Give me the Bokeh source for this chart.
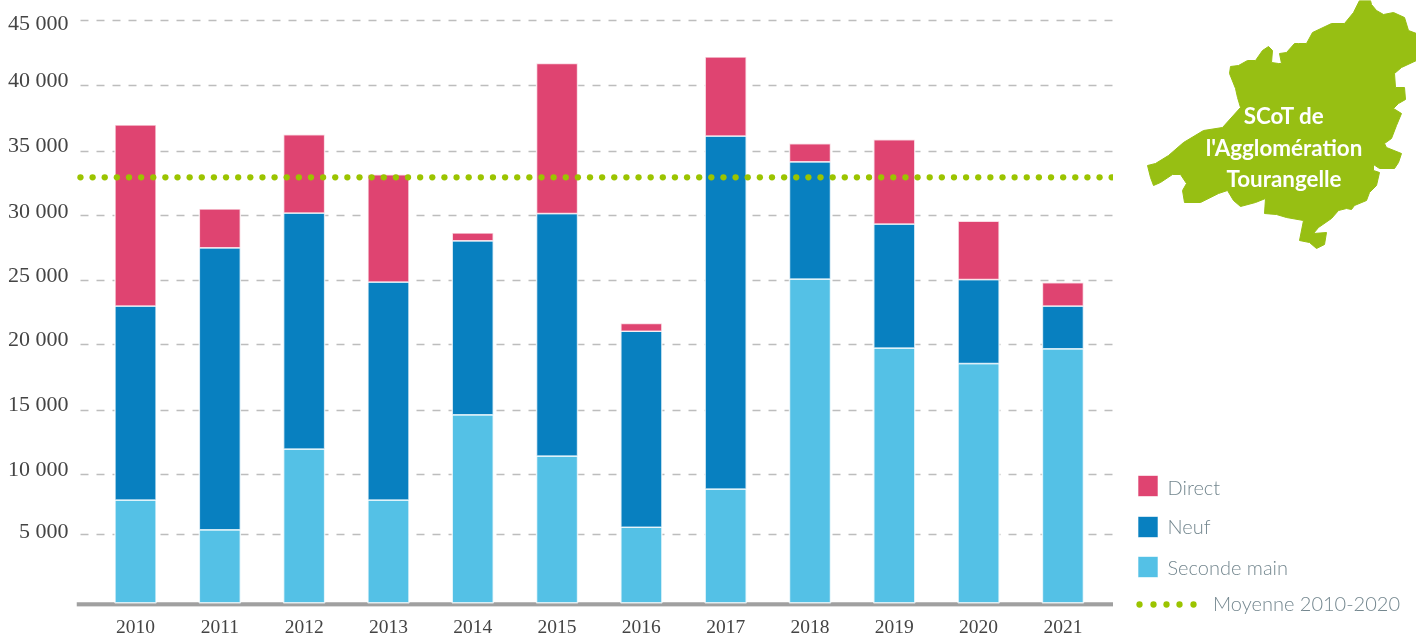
from bokeh.core.properties import value
from bokeh.embed import file_html
from bokeh.models import FixedTicker, Range1d, Grid
from bokeh.plotting import figure
from bokeh.resources import INLINE

years = [2010, 2011, 2012, 2013, 2014, 2015, 2016, 2017, 2018, 2019, 2020, 2021]
seconde_main = [7950, 5650, 11900, 7950, 14550, 11350, 5850, 8800, 25050, 19700, 18500, 19650]
neuf = [15000, 21800, 18250, 16850, 13450, 18750, 15150, 27300, 9050, 9600, 6500, 3300]
direct = [14000, 3000, 6050, 8300, 600, 11600, 600, 6100, 1400, 6500, 4500, 1800]
moyenne = 32900

y_labels = ["45 000", "40 000", "35 000", "30 000", "25 000", "20 000", "15 000", "10 000", "5 000"]
y_label_pos = [44846, 40490, 35465, 30360, 25410, 20440, 15410, 10380, 5590]
grid_pos = [45000, 39974, 34871, 29923, 24897, 19949, 14845, 9897, 5258]

legend_names = ["Direct", "Neuf", "Seconde main"]
legend_colors = ["#DF4471", "#0880C0", "#54C1E6"]
legend_top = [475, 516, 556]
legend_text_y = [486, 525, 566]
legend_dot_x = [1139, 1153, 1166, 1179, 1193]
map_lines = ["SCoT de", "l'Agglomération", "Tourangelle"]
map_line_y = [114.5, 146.5, 177.5]
map_x = [1359, 1370, 1371, 1376, 1383, 1393, 1404, 1408, 1416, 1416, 1401, 1394, 1395, 1404, 1405, 1398, 1393, 1401,
         1396, 1391, 1384, 1386, 1401, 1398, 1394, 1379, 1373, 1373, 1379, 1376, 1369, 1366, 1354, 1351, 1346, 1338,
         1331, 1318, 1313, 1326, 1324, 1316, 1309, 1299, 1303, 1286, 1276, 1264, 1265, 1255, 1240, 1233, 1227, 1218,
         1200, 1184, 1182, 1186, 1180, 1172, 1160, 1153, 1150, 1147, 1155, 1168, 1183, 1203, 1222, 1240, 1237, 1235,
         1229, 1230, 1238, 1247, 1255, 1262, 1268, 1272, 1271, 1278, 1281, 1279, 1286, 1294, 1298, 1306, 1312, 1331,
         1344, 1353]
map_y = [0, 0, 4, 10, 14, 12, 17, 30, 33, 60, 67, 73, 87, 87, 99, 103, 108, 113,
         125, 138, 143, 147, 153, 162, 168, 168, 164, 170, 172, 185, 192, 200, 205, 209, 208, 210,
         218, 227, 233, 232, 244, 248, 242, 240, 220, 217, 214, 213, 198, 202, 206, 200, 190, 193,
         202, 202, 190, 183, 174, 174, 182, 185, 177, 165, 163, 155, 142, 130, 127, 107, 97, 88,
         73, 66, 65, 60, 60, 50, 46, 50, 62, 63, 63, 53, 52, 43, 43, 43, 32, 23,
         23, 12]

p = figure(width=1113, height=635, output_backend="svg", toolbar_location=None,
           x_range=Range1d(2009.3, 2021.6), y_range=Range1d(-282, 46574),
           min_border_left=76, min_border_right=0, min_border_top=0, min_border_bottom=29,
           outline_line_color=None, background_fill_color=None, border_fill_color=None,
           styles={"position": "fixed", "left": "0px", "top": "0px"})
p.xgrid.visible = False
p.ygrid.visible = False
p.add_layout(Grid(dimension=1, ticker=FixedTicker(ticks=grid_pos), grid_line_color="#bdbdbd", grid_line_width=1.5,
                  grid_line_dash="8 8", grid_line_dash_offset=12, level="underlay"))

p.line([2009.3, 2021.6], [-127, -127], line_color="#a0a0a0", line_width=4.5)
data = dict(x=years, seconde=seconde_main, neuf=neuf, direct=direct)
p.vbar_stack(["seconde", "neuf", "direct"], x="x", width=0.486, source=data,
             color=[legend_colors[2], legend_colors[1], legend_colors[0]],
             line_color="white", line_width=1.5, line_alpha=0.75)
dot_x = [2009.347 + i * 0.1439 for i in range(86)]
p.scatter(dot_x, [moyenne] * len(dot_x), size=6.3, fill_color="#9BC400", line_color=None)

ax = p.xaxis[0]
ax.ticker = FixedTicker(ticks=years)
ax.major_label_overrides = {y: str(y) for y in years}
ax.axis_line_color = None
ax.major_tick_line_color = None
ax.minor_tick_line_color = None
ax.major_tick_out = 0
ax.major_tick_in = 0
ax.major_label_text_font = "Liberation Serif"
ax.major_label_text_font_size = "19.5px"
ax.major_label_text_color = "#444444"
ax.major_label_standoff = 13

ay = p.yaxis[0]
ay.ticker = FixedTicker(ticks=y_label_pos)
ay.major_label_overrides = dict(zip(y_label_pos, y_labels))
ay.axis_line_color = None
ay.major_tick_line_color = None
ay.minor_tick_line_color = None
ay.major_tick_out = 0
ay.major_tick_in = 0
ay.major_label_text_font = "Liberation Serif"
ay.major_label_text_font_size = "22px"
ay.major_label_text_color = "#444444"
ay.major_label_standoff = 8

q = figure(width=303, height=635, output_backend="svg", toolbar_location=None,
           x_range=Range1d(1113, 1416), y_range=Range1d(635, 0),
           min_border_left=0, min_border_right=0, min_border_top=0, min_border_bottom=0,
           outline_line_color=None, background_fill_color=None, border_fill_color=None,
           x_axis_location=None, y_axis_location=None,
           styles={"position": "fixed", "left": "1113px", "top": "0px"})
q.xgrid.visible = False
q.ygrid.visible = False
q.patch(map_x, map_y, fill_color="#97BF13", line_color="#97BF13")
q.text([1283.5] * 3, map_line_y, text=map_lines, text_color="white", text_font=value("Lato"),
       text_font_size="22.4px", text_font_style="bold", text_align="center", text_baseline="middle")
q.quad(left=[1137.5] * 3, right=[1157.5] * 3, top=legend_top, bottom=[t + 21 for t in legend_top],
       fill_color=legend_colors, line_color="white", line_width=1, line_alpha=0.6)
q.text([1167] * 3, legend_text_y, text=legend_names, text_color="#74878F", text_font=value("Lato Light"),
       text_font_size="20px", text_align="left", text_baseline="middle")
q.scatter(legend_dot_x, [604] * 5, size=6.3, fill_color="#9BC400", line_color=None)
q.text([1212.5], [602], text=["Moyenne 2010-2020"], text_color="#74878F", text_font=value("Lato Light"),
       text_font_size="20px", text_align="left", text_baseline="middle")

open("out.html", "w").write(file_html([p, q], INLINE))
